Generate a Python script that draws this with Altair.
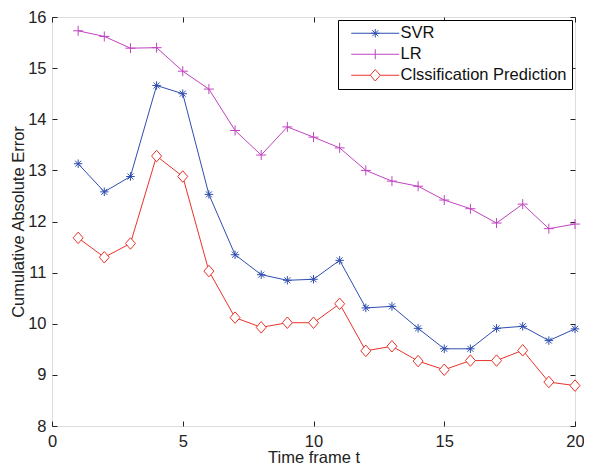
import altair as alt
import pandas as pd

t = list(range(1, 21))
svr = [13.13, 12.58, 12.88, 14.66, 14.50, 12.53, 11.35, 10.96, 10.85, 10.87,
       11.24, 10.31, 10.34, 9.91, 9.51, 9.51, 9.91, 9.95, 9.67, 9.90]
lr = [15.73, 15.62, 15.39, 15.40, 14.94, 14.59, 13.78, 13.30, 13.85, 13.65,
      13.44, 13.00, 12.79, 12.69, 12.42, 12.25, 11.97, 12.34, 11.86, 11.95]
cp = [11.68, 11.30, 11.57, 13.28, 12.88, 11.03, 10.12, 9.93, 10.02, 10.02,
      10.39, 9.47, 9.56, 9.27, 9.10, 9.28, 9.28, 9.48, 8.86, 8.79]

series_names = ["SVR", "LR", "Clssification Prediction"]
series_values = [svr, lr, cp]
colors = ["#2f4eb0", "#c044c0", "#e8332a"]
x_ticks = [0, 5, 10, 15, 20]
y_ticks = [8, 9, 10, 11, 12, 13, 14, 15, 16]

marker_paths = [
    "M-0.85,0H0.85M0,-0.85V0.85M-0.6,-0.6L0.6,0.6M-0.6,0.6L0.6,-0.6",
    "M-1,0H1M0,-1V1",
    "M0,-1.15L1,0L0,1.15L-1,0Z",
]
legend_paths = [
    "M0,0H9.6M3.95,0H5.65M4.8,-0.85V0.85M4.2,-0.6L5.4,0.6M4.2,0.6L5.4,-0.6",
    "M0,0H9.6M4.8,-1V1",
    "M0,0H3.8M5.8,0H9.6M4.8,-1.15L5.8,0L4.8,1.15L3.8,0Z",
]

rows = []
for name, vals in zip(series_names, series_values):
    for ti, v in zip(t, vals):
        rows.append({"t": ti, "value": v, "series": name})
df = pd.DataFrame(rows)

FONT = "Liberation Sans"
FS = 16.5
xscale = alt.Scale(domain=[0, 20], nice=False, zero=False)
yscale = alt.Scale(domain=[8, 16], nice=False, zero=False)
cscale = alt.Scale(domain=series_names, range=colors)

x_bottom = alt.Axis(orient="bottom", values=x_ticks, offset=-5, tickSize=5,
                    domain=False, grid=False, labelPadding=7, labelFontSize=FS,
                    labelFont=FONT, labelColor="#222", tickColor="#222",
                    title="Time frame t", titleFont=FONT, titleFontSize=FS,
                    titleFontWeight="normal", titleColor="#222", titlePadding=0,
                    labelFlush=False)
y_left = alt.Axis(orient="left", values=y_ticks, offset=-5, tickSize=5,
                  domain=False, grid=False, labelPadding=6, labelFontSize=FS,
                  labelFont=FONT, labelColor="#222", tickColor="#222",
                  title="Cumulative Absolute Error", titleFont=FONT,
                  titleFontSize=FS, titleFontWeight="normal", titleColor="#222",
                  titlePadding=1, labelFlush=False)
x_top = alt.Axis(orient="top", values=x_ticks, offset=-5, tickSize=5,
                 domain=False, grid=False, labels=False, title=None,
                 tickColor="#222")
y_right = alt.Axis(orient="right", values=y_ticks, offset=-5, tickSize=5,
                   domain=False, grid=False, labels=False, title=None,
                   tickColor="#222")

legend = alt.Legend(orient="top-right", offset=3, title=None,
                    strokeColor="black", fillColor="white", padding=5,
                    cornerRadius=0, labelFont=FONT, labelFontSize=FS,
                    labelColor="#111", symbolSize=100, symbolStrokeWidth=1,
                    symbolOpacity=1, symbolFillColor="transparent",
                    labelOffset=41, rowPadding=4, labelLimit=400)

lines = alt.Chart(df).mark_line(strokeWidth=1).encode(
    x=alt.X("t:Q", scale=xscale, axis=x_bottom),
    y=alt.Y("value:Q", scale=yscale, axis=y_left),
    color=alt.Color("series:N", scale=cscale, legend=None),
    detail="series:N",
)

points = alt.Chart(df).mark_point(filled=False, fill="white", size=100,
                                  strokeWidth=1, opacity=1).encode(
    x=alt.X("t:Q", scale=xscale, axis=x_top),
    y=alt.Y("value:Q", scale=yscale, axis=y_right),
    color=alt.Color("series:N", scale=cscale, legend=None),
    shape=alt.Shape("series:N",
                    scale=alt.Scale(domain=series_names, range=marker_paths),
                    legend=None),
)

legend_layer = alt.Chart(df).mark_point(filled=False, size=100, opacity=0).encode(
    x=alt.X("t:Q", scale=xscale, axis=None),
    y=alt.Y("value:Q", scale=yscale, axis=None),
    color=alt.Color("series:N", scale=cscale, legend=legend),
    shape=alt.Shape("series:N",
                    scale=alt.Scale(domain=series_names, range=legend_paths),
                    legend=legend),
)

chart = alt.layer(lines, points, legend_layer).resolve_axis(
    x="independent", y="independent"
).resolve_scale(shape="independent", color="independent").properties(
    width=523, height=409,
    autosize=alt.AutoSizeParams(type="none"),
    padding={"left": 44, "top": 9, "right": 9, "bottom": 40},
).configure_view(stroke="#111", strokeWidth=1).configure(background="white")

chart.save("out.html", embed_options={"renderer": "svg", "actions": False})
